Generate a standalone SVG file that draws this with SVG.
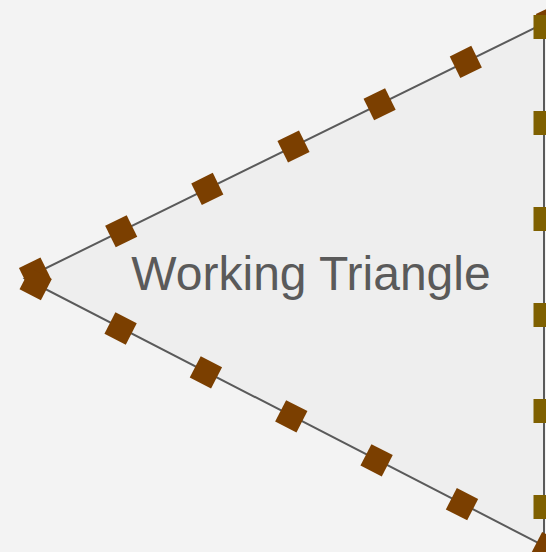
<svg xmlns="http://www.w3.org/2000/svg" width="546" height="552" viewBox="0 0 546 552">
  <style>
    .bg { fill: #f3f3f3; }
    .tri { fill: #eeeeee; stroke: #5a5a5a; stroke-width: 2; stroke-linejoin: miter; }
    .dia { fill: #7b3f00; }
    .sq { fill: #7f6000; }
    .label { font-family: "Liberation Sans", Arial, sans-serif; font-size: 48px; fill: #5a5a5a; }
  </style>
  <defs>
    <rect id="m" x="-12" y="-12" width="24" height="24"/>
  </defs>
  <rect class="bg" x="0" y="0" width="546" height="552"/>
  <g id="triangle">
    <path class="tri" d="M 24.9 278.5 L 544 23.4 L 544 545.8 Z"/>
    <text class="label" x="311" y="290" text-anchor="middle">Working Triangle</text>
  </g>
  <g id="connectors">
    <g id="upper-edge-marks" class="dia">
      <use href="#m" transform="translate(35 273.5) rotate(-26.16)"/>
      <use href="#m" transform="translate(121.2 231.2) rotate(-26.16)"/>
      <use href="#m" transform="translate(207.3 188.9) rotate(-26.16)"/>
      <use href="#m" transform="translate(293.5 146.5) rotate(-26.16)"/>
      <use href="#m" transform="translate(379.6 104.2) rotate(-26.16)"/>
      <use href="#m" transform="translate(465.8 61.9) rotate(-26.16)"/>
      <use href="#m" transform="translate(551.9 19.6) rotate(-26.16)"/>
    </g>
    <g id="lower-edge-marks" class="dia">
      <use href="#m" transform="translate(35.7 284.1) rotate(27.24)"/>
      <use href="#m" transform="translate(120.6 328.5) rotate(27.24)"/>
      <use href="#m" transform="translate(205.9 372.4) rotate(27.24)"/>
      <use href="#m" transform="translate(291.3 416.3) rotate(27.24)"/>
      <use href="#m" transform="translate(376.6 460.3) rotate(27.24)"/>
      <use href="#m" transform="translate(462 504.2) rotate(27.24)"/>
      <use href="#m" transform="translate(547.3 548.1) rotate(27.24)"/>
    </g>
    <g id="right-edge-marks" class="sq">
      <rect x="533.5" y="15" width="24" height="24"/>
      <rect x="533.5" y="111" width="24" height="24"/>
      <rect x="533.5" y="207" width="24" height="24"/>
      <rect x="533.5" y="303" width="24" height="24"/>
      <rect x="533.5" y="399" width="24" height="24"/>
      <rect x="533.5" y="495" width="24" height="24"/>
    </g>
  </g>
</svg>
